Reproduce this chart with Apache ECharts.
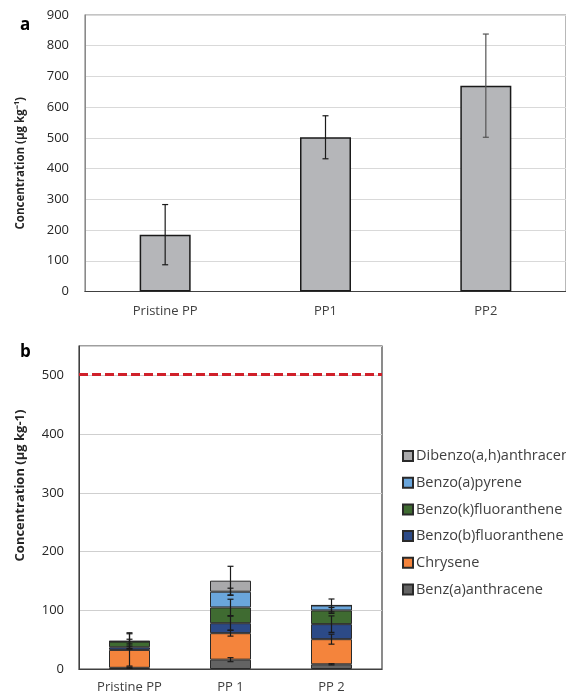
<!DOCTYPE html>
<html>
<head>
<meta charset="utf-8">
<script src="https://cdn.jsdelivr.net/npm/echarts@6/dist/echarts.min.js"></script>
<style>html,body{margin:0;padding:0;background:#fff;}#c{width:566px;height:695px;}</style>
</head>
<body>
<div id="c"></div>
<script>
// ---- Panel a data ----
var catsA = ['Pristine PP', 'PP1', 'PP2'];
var totalA = [185, 502, 670];
var errA = [98, 70, 168];
var ticksA = [0, 100, 200, 300, 400, 500, 600, 700, 800, 900];

// ---- Panel b data ----
var catsB = ['Pristine PP', 'PP 1', 'PP 2'];
var benzAnthracene = [2, 15.9, 8];
var chrysene = [30.5, 45.1, 42.8];
var benzoB = [4.5, 17, 25.6];
var benzoK = [9.7, 26.8, 23.3];
var benzoAPyrene = [0, 26.8, 8.5];
var dibenzo = [1, 18.8, 0];
var errBenzAnthracene = [1, 3.4, 1];
var errChrysene = [27.5, 5, 8.5];
var errBenzoB = [2, 12, 14];
var errBenzoK = [4, 14, 5];
var errBenzoAPyrene = [0, 6, 11];
var errDibenzo = [14, 24.5, 0];
var limitB = 502;
var ticksB = [0, 100, 200, 300, 400, 500];

var FONT = 'Open Sans';
var seriesB = [
  {name: 'Benz(a)anthracene', v: benzAnthracene, e: errBenzAnthracene, c: '#636363'},
  {name: 'Chrysene', v: chrysene, e: errChrysene, c: '#f4843c'},
  {name: 'Benzo(b)fluoranthene', v: benzoB, e: errBenzoB, c: '#2c4a87'},
  {name: 'Benzo(k)fluoranthene', v: benzoK, e: errBenzoK, c: '#3f6b31'},
  {name: 'Benzo(a)pyrene', v: benzoAPyrene, e: errBenzoAPyrene, c: '#6aa6dc'},
  {name: 'Dibenzo(a,h)anthracene', v: dibenzo, e: errDibenzo, c: '#a9a9ab'}
];

function errRender(capHalf, colors) {
  return function (params, api) {
    var x = api.value(0), y = api.value(1), e = api.value(2);
    if (e <= 0) return null;
    var pTop = api.coord([x, y + e]);
    var pBot = api.coord([x, y - e]);
    var color = colors[params.dataIndex] || colors[0];
    var st = {stroke: color, lineWidth: 1.2};
    return {type: 'group', children: [
      {type: 'line', shape: {x1: pTop[0], y1: pTop[1], x2: pBot[0], y2: pBot[1]}, style: st},
      {type: 'line', shape: {x1: pTop[0] - capHalf, y1: pTop[1], x2: pTop[0] + capHalf, y2: pTop[1]}, style: st},
      {type: 'line', shape: {x1: pBot[0] - capHalf, y1: pBot[1], x2: pBot[0] + capHalf, y2: pBot[1]}, style: st}
    ]};
  };
}

var series = [];
// panel a bars
series.push({
  type: 'bar', xAxisIndex: 0, yAxisIndex: 0, data: totalA, barWidth: 51,
  itemStyle: {color: '#b5b6b9', borderColor: '#1a1a1a', borderWidth: 1.5},
  silent: true
});
series.push({
  type: 'custom', xAxisIndex: 0, yAxisIndex: 0, silent: true, z: 10,
  renderItem: errRender(3, ['#1a1a1a', '#1a1a1a', '#555555']),
  data: totalA.map(function (v, i) { return [i, v, errA[i]]; })
});
// panel b stacked bars
var cum = [0, 0, 0];
var errData = [];
seriesB.forEach(function (s, si) {
  series.push({
    name: s.name, type: 'bar', xAxisIndex: 1, yAxisIndex: 1, stack: 'pah', barWidth: 41,
    data: s.v, itemStyle: {color: s.c, borderColor: '#2a2a2a', borderWidth: 1},
    silent: true,
    markLine: si === 0 ? {
      silent: true, symbol: 'none', label: {show: false},
      lineStyle: {color: '#d0202a', width: 3, type: [9, 4]},
      data: [{yAxis: limitB}]
    } : undefined
  });
  for (var i = 0; i < 3; i++) {
    cum[i] += s.v[i];
    errData.push([i, cum[i], s.e[i]]);
  }
});
series.push({
  type: 'custom', xAxisIndex: 1, yAxisIndex: 1, silent: true, z: 10,
  renderItem: errRender(3, ['#1a1a1a']), data: errData
});

var option = {
  animation: false,
  title: [
    {text: 'a', left: 15, top: 12, textStyle: {fontFamily: FONT, fontWeight: 'bold', fontSize: 17, color: '#000'}},
    {text: 'b', left: 15, top: 339, textStyle: {fontFamily: FONT, fontWeight: 'bold', fontSize: 17, color: '#000'}}
  ],
  legend: {
    orient: 'vertical', left: 397, top: 443, itemWidth: 10, itemHeight: 10, itemGap: 10.7,
    data: ['Dibenzo(a,h)anthracene', 'Benzo(a)pyrene', 'Benzo(k)fluoranthene', 'Benzo(b)fluoranthene', 'Chrysene', 'Benz(a)anthracene'],
    textStyle: {fontFamily: FONT, fontSize: 14.5, color: '#404040', lineHeight: 16, padding: [0, 0, 0, -2]},
    selectedMode: false, icon: 'rect'
  },
  grid: [
    {left: 85, right: -4, top: 15, bottom: 403.5, show: true, borderColor: '#8a8a8a', borderWidth: 1.2},
    {left: 79, right: 184, top: 346, bottom: 26, show: true, borderColor: '#404040', borderWidth: 1.2}
  ],
  xAxis: [
    {gridIndex: 0, type: 'category', data: catsA, axisTick: {show: false},
      axisLine: {lineStyle: {color: '#404040', width: 1.2}},
      axisLabel: {fontFamily: FONT, fontSize: 13, color: '#404040', margin: 13}},
    {gridIndex: 1, type: 'category', data: catsB, axisTick: {show: false},
      axisLine: {lineStyle: {color: '#404040', width: 1.2}},
      axisLabel: {fontFamily: FONT, fontSize: 13, color: '#404040', margin: 12}}
  ],
  yAxis: [
    {gridIndex: 0, type: 'value', min: ticksA[0], max: ticksA[ticksA.length - 1], interval: 100,
      name: 'Concentration (μg kg⁻¹)', nameLocation: 'middle', nameGap: 58,
      nameTextStyle: {fontFamily: FONT, fontWeight: 'bold', fontSize: 11.5, color: '#262626', padding: [0, 20, 0, 0]},
      axisLine: {show: true, lineStyle: {color: '#8a8a8a'}}, axisTick: {show: false},
      splitLine: {lineStyle: {color: '#d9d9d9', width: 1}},
      axisLabel: {fontFamily: FONT, fontSize: 13, color: '#262626', margin: 16}},
    {gridIndex: 1, type: 'value', min: 0, max: 550, interval: 100,
      name: 'Concentration (μg kg-1)', nameLocation: 'middle', nameGap: 52,
      nameTextStyle: {fontFamily: FONT, fontWeight: 'bold', fontSize: 13, color: '#262626', padding: [0, 0, 0, 44]},
      axisLine: {show: true, lineStyle: {color: '#404040'}}, axisTick: {show: false},
      splitLine: {lineStyle: {color: '#cfcfcf', width: 1}},
      axisLabel: {fontFamily: FONT, fontSize: 13, color: '#262626', margin: 15, showMaxLabel: false,
        formatter: function (v) { return ticksB.indexOf(v) >= 0 ? String(v) : ''; }}}
  ],
  series: series
};
var chart = echarts.init(document.getElementById('c'), null, {renderer: 'canvas'});
chart.setOption(option);
</script>
</body>
</html>
